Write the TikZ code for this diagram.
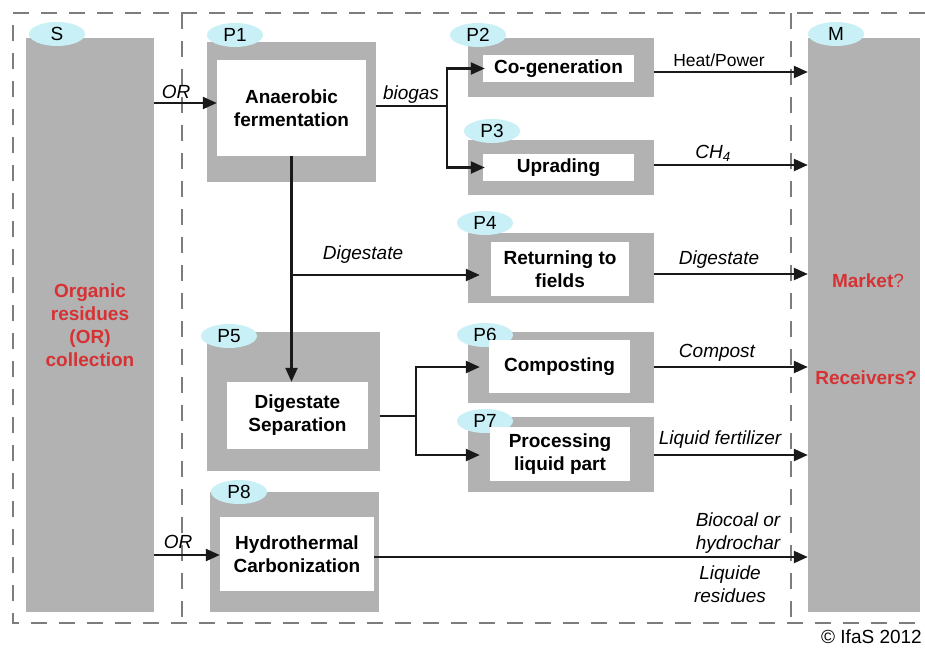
\documentclass[tikz,border=0pt]{standalone}
\usepackage{fontspec}
\setmainfont{Liberation Sans}
\usetikzlibrary{arrows.meta,shapes.geometric}
\definecolor{boxgray}{RGB}{178,178,178}
\definecolor{tagcyan}{RGB}{200,240,246}
\definecolor{alertred}{RGB}{214,50,52}
\definecolor{framegray}{RGB}{125,125,125}
\definecolor{ink}{RGB}{25,25,25}
\newcommand{\bigfont}{\fontsize{19}{23}\selectfont}
\begin{document}
\begin{tikzpicture}[x=1pt,y=-1pt,
  panel/.style={fill=boxgray, draw=none, inner sep=0pt},
  inbox/.style={fill=white, draw=none, inner sep=0pt, align=center, font=\bigfont\bfseries},
  tag/.style={ellipse, fill=tagcyan, draw=none, minimum width=56pt, minimum height=24pt, inner sep=0pt, font=\bigfont},
  flow/.style={draw=ink, line width=2.3pt, -{Triangle[length=14pt,width=12pt]}},
  pipe/.style={draw=ink, line width=2.3pt},
  lbl/.style={font=\bigfont\itshape, inner sep=0pt, align=center},
  border/.style={draw=framegray, line width=2pt, dash pattern=on 16pt off 12pt},
  redtext/.style={text=alertred, font=\bigfont\bfseries, inner sep=0pt, align=center},
]
\useasboundingbox (0,0) rectangle (925,648);
\fill[white] (0,0) rectangle (925,648);

% dashed frame and the two dividers
\draw[border] (925,13) -- (13,13) -- (13,623) -- (925,623);
\draw[border] (182,13) -- (182,623);
\draw[border] (791,13) -- (791,623);

% source and market columns
\node[panel, minimum width=128pt, minimum height=574pt, redtext] (S) at (90,325) {Organic\\residues\\(OR)\\collection};
\node[panel, minimum width=112pt, minimum height=574pt] (M) at (864,325) {};

% process panels
\node[panel, minimum width=169pt, minimum height=140pt] (g1) at (291.5,112) {};
\node[panel, minimum width=186pt, minimum height=59pt]  (g2) at (561,67.5) {};
\node[panel, minimum width=186pt, minimum height=55pt]  (g3) at (561,167.5) {};
\node[panel, minimum width=186pt, minimum height=70pt]  (g4) at (561,268) {};
\node[panel, minimum width=173pt, minimum height=139pt] (g5) at (293.5,401.5) {};
\node[panel, minimum width=186pt, minimum height=71pt]  (g6) at (561,367.5) {};
\node[panel, minimum width=186pt, minimum height=75pt]  (g7) at (561,454.5) {};
\node[panel, minimum width=169pt, minimum height=120pt] (g8) at (294.5,552) {};

% tags
\node[tag] (tS) at (57,34) {S};
\node[tag] (tM) at (836,34) {M};
\node[tag] (t1) at (235,35) {P1};
\node[tag] (t2) at (478,35) {P2};
\node[tag] (t3) at (492,131) {P3};
\node[tag] (t4) at (485,223) {P4};
\node[tag] (t5) at (229,336) {P5};
\node[tag] (t6) at (485,335) {P6};
\node[tag] (t7) at (485,421) {P7};
\node[tag] (t8) at (239,492) {P8};

% process boxes
\node[inbox, minimum width=149pt, minimum height=96pt] (w1) at (291.5,108) {Anaerobic\\fermentation};
\node[inbox, minimum width=151pt, minimum height=27pt] (w2) at (558.5,68.5) {Co-generation};
\node[inbox, minimum width=151pt, minimum height=27pt] (w3) at (558.5,167.5) {Uprading};
\node[inbox, minimum width=138pt, minimum height=54pt] (w4) at (560,269) {Returning to\\fields};
\node[inbox, minimum width=141pt, minimum height=67pt] (w5) at (297.5,415.5) {Digestate\\Separation};
\node[inbox, minimum width=141pt, minimum height=53pt] (w6) at (559.5,366.5) {Composting};
\node[inbox, minimum width=140pt, minimum height=54pt] (w7) at (560,454) {Processing\\liquid part};
\node[inbox, minimum width=154pt, minimum height=74pt] (w8) at (297,554) {Hydrothermal\\Carbonization};

% market text
\node[redtext] (mk) at (868,281) {Market\mdseries?};
\node[redtext] (rc) at (866,378) {Receivers?};

% junction points
\coordinate (jb) at (447,106);
\coordinate (jd) at (291.5,275);
\coordinate (js) at (416,416);

% organic residues into fermentation
\draw[flow] (S.east |- 0,103) -- (w1.west |- 0,103);
\node[lbl] (lOR1) at (176,92) {OR};

% biogas split
\draw[pipe] (g1.east |- jb) -- (jb);
\draw[flow, shorten >=-2pt] (jb) |- (w2.west);
\draw[flow, shorten >=-2pt] (jb) |- (w3.west);
\node[lbl] (lbio) at (411,95) {biogas};

% products to market
\draw[flow] (g2.east |- 0,72) -- (M.west |- 0,72);
\node[lbl, font=\fontsize{17.5}{21}\selectfont] (lhp) at (719,60) {Heat/Power};
\draw[flow] (g3.east |- 0,165) -- (M.west |- 0,165);
\node[lbl] (lch) at (713,153) {CH\textsubscript{4}};

% digestate path
\draw[flow] (w1.south) -- (w1.south |- w5.north);
\draw[flow, shorten >=-12pt] (jd) -- (g4.west |- jd);
\node[lbl] (ldg1) at (363,255) {Digestate};
\draw[flow] (g4.east |- 0,274) -- (M.west |- 0,274);
\node[lbl] (ldg2) at (719,260) {Digestate};

% separation split
\draw[pipe] (g5.east |- js) -- (js);
\draw[flow, shorten >=-12pt] (js) |- (g6.west |- 0,367);
\draw[flow, shorten >=-12pt] (js) |- (g7.west |- 0,455);
\draw[flow] (g6.east |- 0,367) -- (M.west |- 0,367);
\node[lbl] (lcp) at (717,353) {Compost};
\draw[flow] (g7.east |- 0,455) -- (M.west |- 0,455);
\node[lbl] (llf) at (720,440) {Liquid fertilizer};

% hydrothermal carbonization
\draw[flow] (S.east |- 0,555) -- (w8.west |- 0,555);
\node[lbl] (lOR2) at (178,542) {OR};
\draw[flow] (w8.east |- 0,557) -- (M.west |- 0,557);
\node[lbl] (lbc) at (738,533.5) {Biocoal or\\hydrochar};
\node[lbl] (llr) at (730,584.5) {Liquide\\residues};

% credit
\node[anchor=east, inner sep=0pt, font=\bigfont] (cr) at (922,637) {\textcopyright\ IfaS 2012};
\end{tikzpicture}
\end{document}
